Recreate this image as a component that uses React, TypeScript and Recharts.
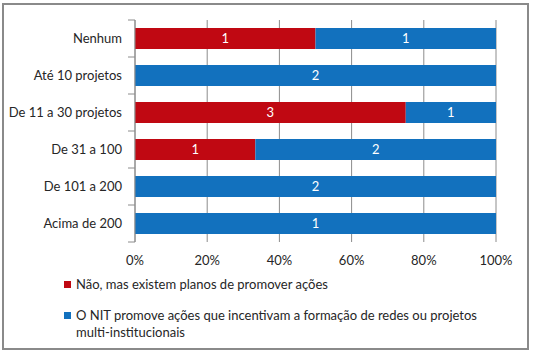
import { BarChart, Bar, XAxis, YAxis, CartesianGrid, LabelList } from 'recharts'

const categories = ['Nenhum', 'Até 10 projetos', 'De 11 a 30 projetos', 'De 31 a 100', 'De 101 a 200', 'Acima de 200']
const plannedValues = [1, 0, 3, 1, 0, 0]
const promotesValues = [1, 2, 1, 2, 2, 1]
const seriesNames = [
  'Não, mas existem planos de promover ações',
  'O NIT promove ações que incentivam a formação de redes ou projetos multi-institucionais',
]
const xTicks = [0, 0.2, 0.4, 0.6, 0.8, 1]

const RED = '#C00812'
const BLUE = '#1271BE'
const FONT = 'Lato, "Open Sans", sans-serif'

const data = categories.map((name, i) => ({
  name,
  planned: plannedValues[i],
  promotes: promotesValues[i],
}))

// category label plus small tick marks on the band boundaries
function CategoryTick(props: any) {
  const { x, y, payload, index, height, visibleTicksCount } = props
  const band = height / visibleTicksCount
  const top = y - band / 2
  return (
    <g>
      <line x1={x + 6} x2={x + 13} y1={top} y2={top} stroke="#8c8c8c" />
      {index === visibleTicksCount - 1 && (
        <line x1={x + 6} x2={x + 13} y1={top + band} y2={top + band} stroke="#8c8c8c" />
      )}
      <text x={x} y={y} dy="0.35em" textAnchor="end" fill="#262626" fontSize={13} fontFamily={FONT}>
        {payload.value}
      </text>
    </g>
  )
}

const hideZero = (v: any) => (v ? v : '')

export default function App() {
  return (
    <div style={{ position: 'absolute', left: 0, top: 0, width: 535, height: 353, background: '#fff' }}>
      <div
        style={{
          position: 'absolute', left: 2, top: 3, width: 527, height: 347,
          border: '2px solid #8a8a8a', boxSizing: 'border-box',
        }}
      />
      <div style={{ position: 'absolute', left: 0, top: 0 }}>
        <BarChart
          width={535}
          height={353}
          data={data}
          layout="vertical"
          stackOffset="expand"
          margin={{ top: 20, right: 39, bottom: 81, left: 0 }}
          barSize={21}
        >
          <CartesianGrid horizontal={false} stroke="#8c8c8c" verticalValues={xTicks} />
          <XAxis
            type="number"
            domain={[0, 1]}
            ticks={xTicks}
            tickFormatter={(v) => `${Math.round(v * 100)}%`}
            axisLine={false}
            tickLine={false}
            tickSize={6}
            tickMargin={8}
            height={30}
            tick={{ fontSize: 13, fill: '#262626', fontFamily: FONT }}
          />
          <YAxis
            type="category"
            dataKey="name"
            width={135}
            axisLine={{ stroke: '#8c8c8c' }}
            tickLine={false}
            tickSize={7}
            tickMargin={6}
            tick={<CategoryTick />}
            interval={0}
          />
          <Bar dataKey="planned" name={seriesNames[0]} stackId="a" fill={RED} isAnimationActive={false}>
            <LabelList dataKey="planned" position="center" fill="#fff" fontSize={13} fontFamily={FONT} formatter={hideZero} />
          </Bar>
          <Bar dataKey="promotes" name={seriesNames[1]} stackId="a" fill={BLUE} isAnimationActive={false}>
            <LabelList dataKey="promotes" position="center" fill="#fff" fontSize={13} fontFamily={FONT} formatter={hideZero} />
          </Bar>
        </BarChart>
      </div>
      {/* legend */}
      <div style={{ position: 'absolute', left: 64, top: 276, width: 425, fontFamily: FONT, fontSize: 13, color: '#262626', lineHeight: '17px' }}>
        {seriesNames.map((s, i) => (
          <div key={s} style={{ position: 'relative', paddingLeft: 12, marginBottom: 14 }}>
            <span style={{ position: 'absolute', left: 0, top: 5, width: 7, height: 7, background: i === 0 ? RED : BLUE }} />
            {s}
          </div>
        ))}
      </div>
    </div>
  )
}
